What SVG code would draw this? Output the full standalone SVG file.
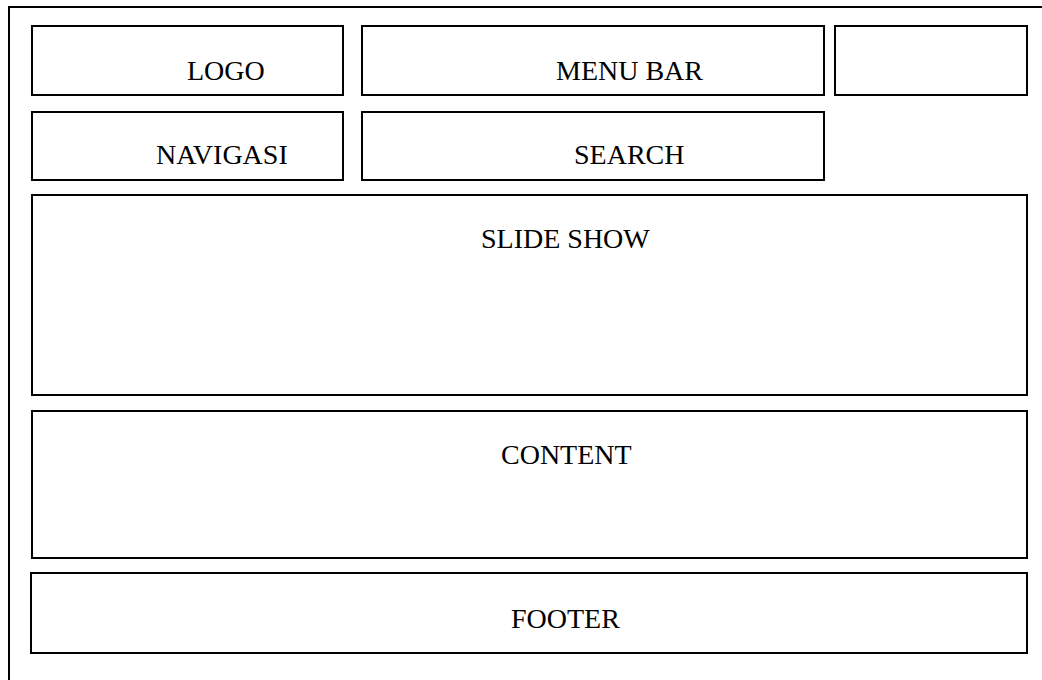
<svg xmlns="http://www.w3.org/2000/svg" width="1042" height="680" viewBox="0 0 1042 680">
<style>
.box{fill:#fff;stroke:#000;stroke-width:2}
.lbl{font-family:"Liberation Serif","Times New Roman",serif;font-size:28px;fill:#000}
</style>
<rect x="0" y="0" width="1042" height="680" fill="#fff"/>
<rect id="page" x="9" y="7" width="1060" height="700" fill="none" stroke="#000" stroke-width="2"/>
<g id="logo"><rect class="box" x="32" y="26" width="311" height="69"/><text class="lbl" x="187" y="80">LOGO</text></g>
<g id="menubar"><rect class="box" x="362" y="26" width="462" height="69"/><text class="lbl" x="556" y="80">MENU BAR</text></g>
<g id="blank"><rect class="box" x="835" y="26" width="192" height="69"/></g>
<g id="navigasi"><rect class="box" x="32" y="112" width="311" height="68"/><text class="lbl" x="156" y="164">NAVIGASI</text></g>
<g id="search"><rect class="box" x="362" y="112" width="462" height="68"/><text class="lbl" x="574" y="164">SEARCH</text></g>
<g id="slideshow"><rect class="box" x="32" y="195" width="995" height="200"/><text class="lbl" x="481" y="248">SLIDE SHOW</text></g>
<g id="content"><rect class="box" x="32" y="411" width="995" height="147"/><text class="lbl" x="501" y="464">CONTENT</text></g>
<g id="footer"><rect class="box" x="31" y="573" width="996" height="80"/><text class="lbl" x="511" y="628">FOOTER</text></g>
<g id="connectors"/>
</svg>
